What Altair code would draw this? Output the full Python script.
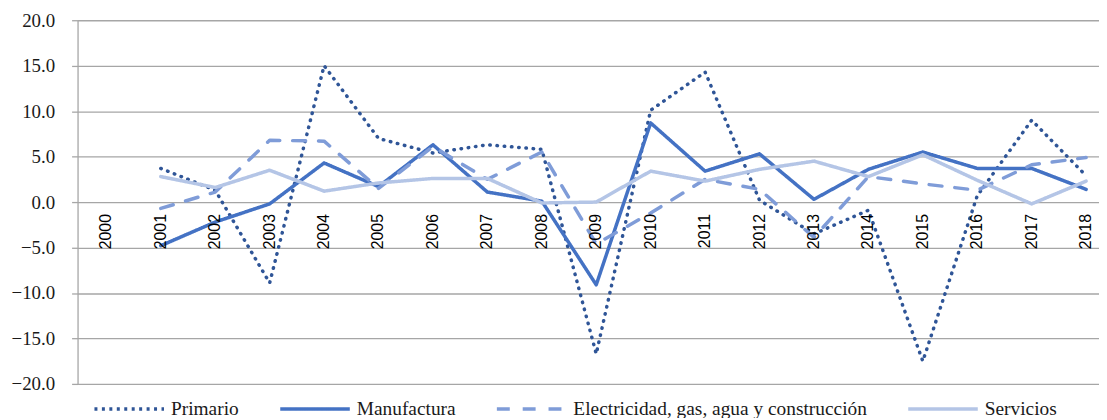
import altair as alt
import pandas as pd

years = list(range(2000, 2019))
series_names = ["Primario", "Manufactura", "Electricidad, gas, agua y construcción", "Servicios"]

primario = [None, 3.7, 1.3, -8.9, 15.0, 7.0, 5.4, 6.3, 5.8, -16.7, 10.1, 14.3, 0.2, -3.5, -0.9, -17.5, 0.7, 9.0, 2.9]
manufactura = [None, -4.8, -2.2, -0.2, 4.3, 1.7, 6.3, 1.1, 0.1, -9.1, 8.7, 3.4, 5.3, 0.3, 3.6, 5.5, 3.7, 3.7, 1.4]
electricidad = [None, -0.7, 1.1, 6.8, 6.7, 1.5, 6.1, 2.5, 5.5, -4.6, -1.2, 2.5, 1.4, -3.9, 2.8, 2.0, 1.3, 4.1, 4.9]
servicios = [None, 2.8, 1.6, 3.5, 1.2, 2.1, 2.6, 2.6, -0.1, 0.0, 3.4, 2.3, 3.6, 4.5, 2.8, 5.2, 2.4, -0.2, 2.3]

colors = ["#2F5597", "#4472C4", "#7F9CD8", "#B4C5E6"]
legend_dashes = [[3, 4.5], [1, 0], [13, 13], [1, 0]]
dot_dash = [0.5, 6.8]

rows = []
for name, vals in zip(series_names, [primario, manufactura, electricidad, servicios]):
    for yr, v in zip(years, vals):
        if v is not None:
            rows.append({"year": yr, "value": v, "series": name})
df = pd.DataFrame(rows)
labels_df = pd.DataFrame({"year": years, "label": [str(y) for y in years]})

xscale = alt.Scale(domain=[1999.4706, 2018.2366], nice=False, zero=False)
yscale = alt.Scale(domain=[-20, 20], nice=False)

x_enc = alt.X("year:Q", scale=xscale, axis=None)
y_enc = alt.Y("value:Q", scale=yscale,
              axis=alt.Axis(values=[-20, -15, -10, -5, 0, 5, 10, 15, 20], format=".1f", title=None,
                            grid=True, gridColor="#A6A6A6", gridWidth=1.3,
                            domainColor="#A6A6A6", domainWidth=1.3,
                            tickColor="#A6A6A6", tickSize=6, tickWidth=1.3,
                            labelFont="Liberation Serif", labelFontSize=19, labelColor="#1a1a1a",
                            labelPadding=17))
color_enc = alt.Color("series:N", scale=alt.Scale(domain=series_names, range=colors),
                      sort=series_names,
                      legend=alt.Legend(title=None, orient="none", direction="horizontal",
                                        legendX=15, legendY=354,
                                        symbolType="stroke", symbolSize=4900, symbolStrokeWidth=3.5,
                                        labelFont="Liberation Serif", labelFontSize=19.5, labelColor="#1a1a1a",
                                        labelOffset=5, columnPadding=34, labelLimit=600))

others = alt.Chart(df).transform_filter(alt.datum.series != "Primario").mark_line(
    strokeWidth=3.5, strokeCap="round", strokeJoin="round"
).encode(
    x=x_enc, y=y_enc, color=color_enc,
    strokeDash=alt.StrokeDash("series:N", scale=alt.Scale(domain=series_names, range=legend_dashes),
                              sort=series_names),
)

dotted = alt.Chart(df).transform_filter(alt.datum.series == "Primario").mark_line(
    strokeWidth=3.5, strokeCap="round", strokeJoin="round", strokeDash=dot_dash
).encode(x=x_enc, y=y_enc, color=color_enc)

year_labels = alt.Chart(labels_df).mark_text(
    angle=270, align="right", baseline="middle", dx=-12,
    font="Liberation Sans", fontSize=16, color="#000000"
).encode(
    x=alt.X("year:Q", scale=xscale, axis=None),
    y=alt.datum(0),
    text="label:N",
)

chart = alt.layer(dotted, others, year_labels).properties(
    width=1028, height=366,
    autosize=alt.AutoSizeParams(type="none"),
    padding={"left": 70, "top": 11, "right": 0, "bottom": 33},
).configure_view(stroke=None)

chart.save("out.html", embed_options={"renderer": "svg", "actions": False})
